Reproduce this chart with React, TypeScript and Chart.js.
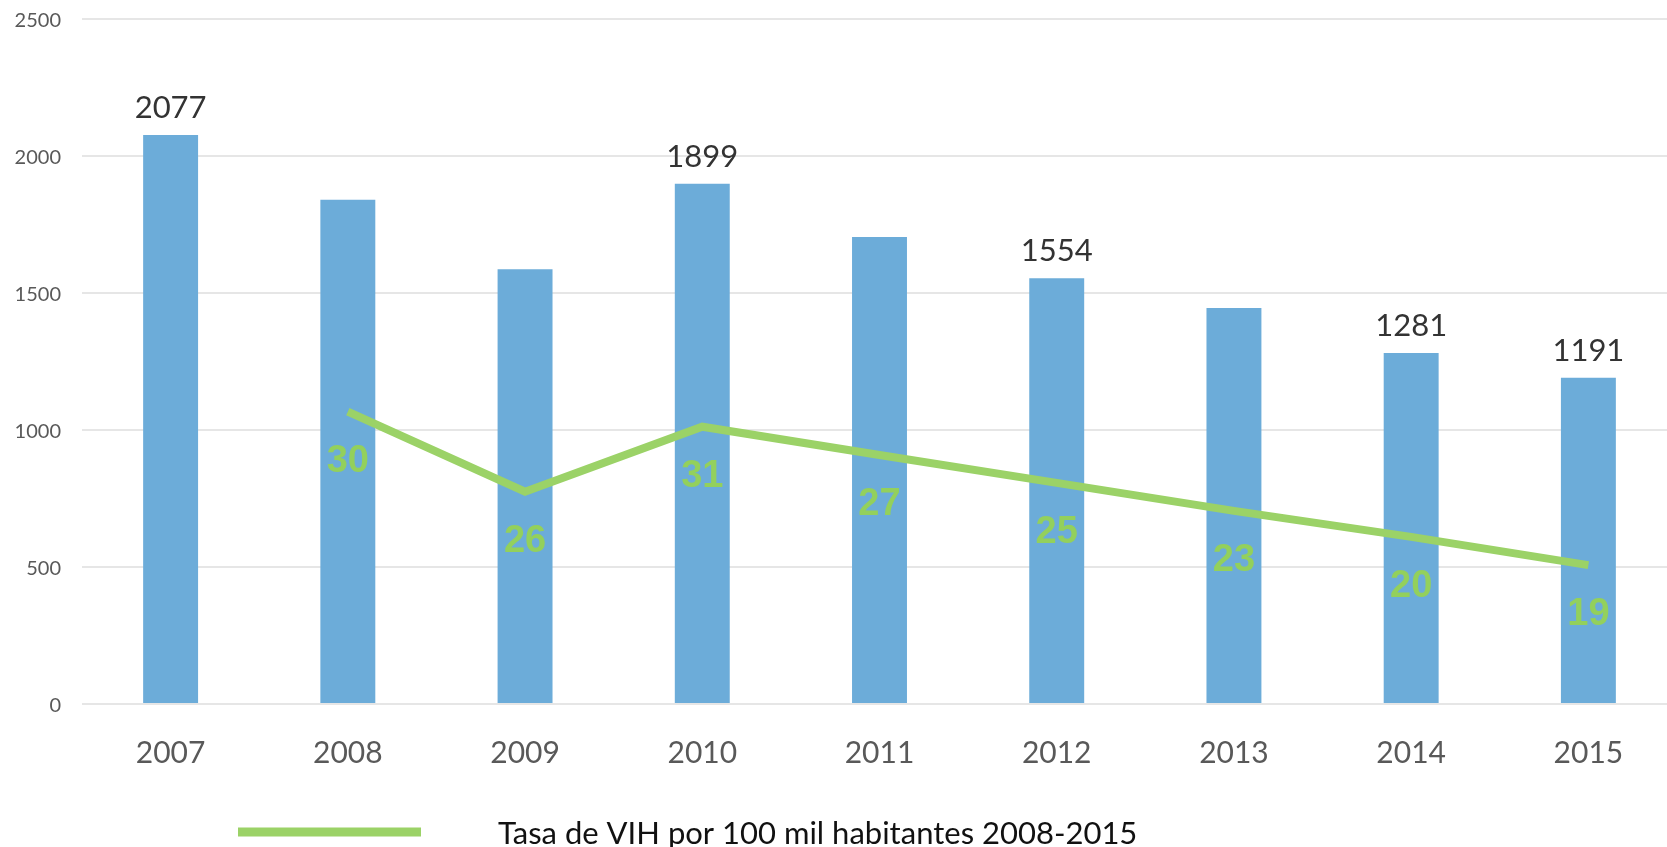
import React, { useEffect, useRef } from "react";
import { Chart, registerables } from "chart.js";

Chart.register(...registerables);

const years = ["2007", "2008", "2009", "2010", "2011", "2012", "2013", "2014", "2015"];
const casos = [2077, 1840, 1587, 1899, 1704, 1554, 1445, 1281, 1191];
const showCasosLabel = [true, false, false, true, false, true, false, true, true];
const tasaLabels = [null, 30, 26, 31, 27, 25, 23, 20, 19];
const tasaLinePos = [null, 1067, 775, 1012, 909, 807, 705, 610, 507];
const yTicks = [0, 500, 1000, 1500, 2000, 2500];
const legendLabel = "Tasa de VIH por 100 mil habitantes 2008-2015";

const BAR_COLOR = "#6CACD9";
const GREEN = "#9BD267";
const GREEN_TEXT = "#93D05C";

const labelsPlugin = {
  id: "customLabels",
  afterDatasetsDraw(chart: any) {
    const ctx = chart.ctx;
    const area = chart.chartArea;
    ctx.save();
    ctx.textAlign = "center";
    ctx.textBaseline = "alphabetic";
    // bar value labels
    ctx.font = "31px Lato";
    ctx.fillStyle = "#333333";
    const barMeta = chart.getDatasetMeta(0);
    barMeta.data.forEach((el: any, i: number) => {
      if (!showCasosLabel[i]) return;
      ctx.fillText(String(casos[i]), el.x, el.y - 17);
    });
    // rate labels
    ctx.font = "bold 38px 'Liberation Sans'";
    ctx.fillStyle = GREEN_TEXT;
    const lineMeta = chart.getDatasetMeta(1);
    lineMeta.data.forEach((el: any, i: number) => {
      const v = tasaLabels[i];
      if (v == null) return;
      ctx.fillText(String(v), el.x, el.y + 60);
    });
    // legend
    const ly = area.bottom + 128;
    ctx.strokeStyle = GREEN;
    ctx.lineWidth = 9;
    ctx.lineCap = "butt";
    ctx.beginPath();
    ctx.moveTo(area.left + 156, ly);
    ctx.lineTo(area.left + 339, ly);
    ctx.stroke();
    ctx.font = "31px Lato";
    ctx.fillStyle = "#111111";
    ctx.textAlign = "left";
    ctx.fillText(legendLabel, area.left + 416, area.bottom + 140);
    ctx.restore();
  },
};

export default function App() {
  const ref = useRef<HTMLCanvasElement | null>(null);
  useEffect(() => {
    if (!ref.current) return;
    const chart = new Chart(ref.current, {
      type: "bar",
      data: {
        labels: years,
        datasets: [
          {
            type: "bar",
            label: "Casos",
            data: casos,
            backgroundColor: BAR_COLOR,
            barPercentage: 0.31,
            categoryPercentage: 1,
            order: 2,
          },
          {
            type: "line",
            label: legendLabel,
            data: tasaLinePos as any,
            borderColor: GREEN,
            borderWidth: 8,
            pointRadius: 0,
            tension: 0,
            fill: false,
            order: 1,
          } as any,
        ],
      },
      options: {
        responsive: false,
        animation: false,
        devicePixelRatio: 1,
        layout: { padding: { top: 19, left: 0, right: 0, bottom: 0 } },
        plugins: { legend: { display: false }, tooltip: { enabled: false } },
        scales: {
          x: {
            grid: { display: false, drawTicks: false },
            border: { display: false },
            ticks: {
              font: { family: "Lato", size: 30 },
              color: "#595959",
              padding: 31,
              maxRotation: 0,
            },
            afterFit: (s: any) => {
              s.height = 143;
            },
          },
          y: {
            min: 0,
            max: 2500,
            grid: { color: "#E6E6E6", lineWidth: 2, drawTicks: false },
            border: { display: false },
            ticks: {
              font: { family: "Lato", size: 20 },
              color: "#595959",
              padding: 21,
              labelOffset: 2,
              callback: (v: any) => String(v),
            },
            afterBuildTicks: (s: any) => {
              s.ticks = yTicks.map((v) => ({ value: v }));
            },
            afterFit: (s: any) => {
              s.width = 82;
              s.paddingTop = 0;
              s.paddingBottom = 0;
            },
          },
        },
      },
      plugins: [labelsPlugin],
    });
    return () => chart.destroy();
  }, []);
  return (
    <div
      style={{
        position: "absolute",
        left: 0,
        top: 0,
        width: 1667,
        height: 847,
        overflow: "hidden",
        background: "#fff",
      }}
    >
      <canvas ref={ref} width={1677} height={847} style={{ display: "block" }} />
    </div>
  );
}
